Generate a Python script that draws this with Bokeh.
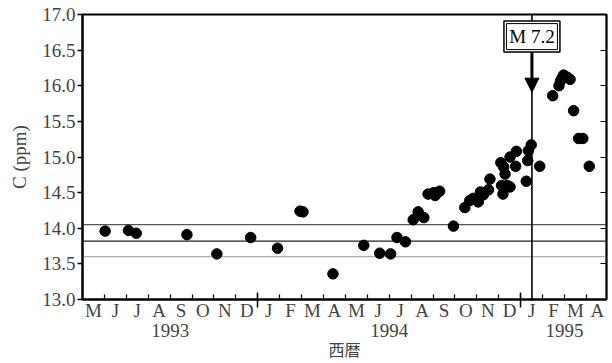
import datetime
import calendar
from bokeh.plotting import figure
from bokeh.models import (FixedTicker, LinearAxis, Span, Arrow, NormalHead,
                          PrintfTickFormatter)
from bokeh.core.properties import value
from bokeh.embed import file_html
from bokeh.resources import INLINE

# ---------------- data ----------------
dates = [
    "1993-06-02", "1993-07-04", "1993-07-15", "1993-09-24", "1993-11-05",
    "1993-12-22", "1994-01-29", "1994-02-27", "1994-03-03", "1994-04-14",
    "1994-05-27", "1994-06-18", "1994-07-03", "1994-07-12", "1994-07-24",
    "1994-08-04", "1994-08-11", "1994-08-19", "1994-08-25", "1994-09-02",
    "1994-09-04", "1994-09-10", "1994-09-29", "1994-10-15", "1994-10-22",
    "1994-10-27", "1994-11-03", "1994-11-06", "1994-11-10", "1994-11-17",
    "1994-11-19", "1994-12-04", "1994-12-05", "1994-12-07", "1994-12-08",
    "1994-12-10", "1994-12-13", "1994-12-17", "1994-12-17", "1994-12-25",
    "1994-12-26", "1995-01-09", "1995-01-11", "1995-01-12", "1995-01-16",
    "1995-01-28", "1995-02-14", "1995-02-22", "1995-02-24", "1995-02-26",
    "1995-02-28", "1995-03-05", "1995-03-09", "1995-03-14", "1995-03-21",
    "1995-03-27", "1995-04-05",
]
conc = [
    13.96, 13.97, 13.93, 13.91, 13.64,
    13.87, 13.72, 14.24, 14.23, 13.36,
    13.76, 13.65, 13.64, 13.87, 13.81,
    14.12, 14.23, 14.15, 14.48, 14.50,
    14.46, 14.52, 14.03, 14.29, 14.39,
    14.42, 14.37, 14.51, 14.47, 14.54,
    14.69, 14.92, 14.60, 14.48, 14.86,
    14.76, 14.60, 14.58, 15.00, 14.87,
    15.08, 14.66, 14.95, 15.09, 15.17,
    14.87, 15.86, 16.00, 16.07, 16.11,
    16.15, 16.12, 16.09, 15.65, 15.26,
    15.26, 14.87,
]
baseline_levels = [14.05, 13.82, 13.60]
baseline_colors = ["#555555", "#222222", "#999999"]
quake_date = "1995-01-17"
quake_label = "M 7.2"
month_letters = ["M", "J", "J", "A", "S", "O", "N", "D",
                 "J", "F", "M", "A", "M", "J", "J", "A", "S", "O", "N", "D",
                 "J", "F", "M", "A"]
years = ["1993", "1994", "1995"]
year_centers = [4.0, 14.0, 22.0]      # month index centre of each year's span
year_bounds = [8.0, 20.0]             # Jan 1994, Jan 1995
y_ticks = [13.0, 13.5, 14.0, 14.5, 15.0, 15.5, 16.0, 16.5, 17.0]


def month_pos(s):
    d = datetime.date.fromisoformat(s)
    k = (d.year - 1993) * 12 + (d.month - 5)
    n = calendar.monthrange(d.year, d.month)[1]
    return k + (d.day - 1) / n


xs = [month_pos(d) for d in dates]
qx = month_pos(quake_date)

SERIF = "Liberation Serif"
FS = "19px"

p = figure(width=612, height=363, x_range=(0, 23.92), y_range=(13.0, 17.0),
           output_backend="svg", toolbar_location=None,
           min_border_left=82, min_border_right=6, min_border_top=14,
           min_border_bottom=0, x_axis_type=None, y_axis_type=None)
p.grid.visible = False
p.outline_line_color = "black"
p.outline_line_width = 2
p.background_fill_color = "white"
p.border_fill_color = "white"

# left axis
yl = LinearAxis(ticker=FixedTicker(ticks=y_ticks),
                formatter=PrintfTickFormatter(format="%.1f"))
yl.axis_label = "C (ppm)"
yl.axis_label_text_font = SERIF
yl.axis_label_text_font_size = FS
yl.axis_label_text_font_style = "normal"
yl.axis_label_standoff = 9
yl.major_label_text_font = SERIF
yl.major_label_text_font_size = FS
yl.major_label_standoff = 2
yl.major_tick_out = 5
yl.major_tick_in = 0
yl.minor_tick_out = 0
yl.axis_line_width = 2
yl.major_tick_line_width = 1.5
p.add_layout(yl, "left")

# right axis (inward ticks only)
yr = LinearAxis(ticker=FixedTicker(ticks=y_ticks))
yr.major_label_overrides = {t: "" for t in y_ticks}
yr.major_label_standoff = 0
yr.major_tick_in = 6
yr.major_tick_out = 0
yr.minor_tick_out = 0
yr.axis_line_width = 1.5
yr.major_tick_line_width = 1.2
p.add_layout(yr, "right")

# bottom axis line: year-boundary ticks crossing the axis, month-boundary ticks inside
xa = LinearAxis(ticker=FixedTicker(ticks=year_bounds,
                                   minor_ticks=[float(k) for k in range(1, 24)]))
xa.major_label_overrides = {t: "" for t in year_bounds}
xa.major_label_standoff = 0
xa.major_tick_in = 7
xa.major_tick_out = 8
xa.major_tick_line_width = 1.5
xa.minor_tick_in = 5
xa.minor_tick_out = 0
xa.minor_tick_line_width = 1.2
xa.axis_line_width = 2
p.add_layout(xa, "below")

# month letters at month centres
centers = [k + 0.5 for k in range(len(month_letters))]
xb = LinearAxis(ticker=FixedTicker(ticks=centers))
xb.major_label_overrides = {c: lab for c, lab in zip(centers, month_letters)}
xb.major_label_text_font = SERIF
xb.major_label_text_font_size = FS
xb.major_label_standoff = -8
xb.major_tick_in = 0
xb.major_tick_out = 0
xb.minor_tick_out = 0
xb.axis_line_color = None
p.add_layout(xb, "below")

# year row
xy = LinearAxis(ticker=FixedTicker(ticks=year_centers))
xy.major_label_overrides = {c: lab for c, lab in zip(year_centers, years)}
xy.major_label_text_font = SERIF
xy.major_label_text_font_size = FS
xy.major_label_standoff = 0
xy.major_tick_in = 0
xy.major_tick_out = 0
xy.minor_tick_out = 0
xy.axis_line_color = None
xy.axis_label = "西暦"
xy.axis_label_text_font = "Noto Sans CJK JP"
xy.axis_label_text_font_size = "16px"
xy.axis_label_text_font_style = "normal"
xy.axis_label_standoff = -3
p.add_layout(xy, "below")

# baseline mean +- sigma lines
for lv, col in zip(baseline_levels, baseline_colors):
    p.add_layout(Span(location=lv, dimension="width", line_color=col,
                      line_width=1.2, level="underlay"))

# earthquake line
p.add_layout(Span(location=qx, dimension="height", line_color="black",
                  line_width=1.6, level="underlay"))

# data
p.scatter(xs, conc, size=10.5, marker="circle", fill_color="black",
          line_color="black")

# M 7.2 box
p.rect([qx], [16.69], width=56, height=31, width_units="screen",
       height_units="screen", fill_color="white", line_color="black",
       line_width=1.5)
p.rect([qx], [16.69], width=51, height=26, width_units="screen",
       height_units="screen", fill_color=None, line_color="black",
       line_width=1)
p.text([qx], [16.69], text=[quake_label], text_font=value(SERIF),
       text_font_size=FS, text_align="center", text_baseline="middle",
       text_color="black")

# arrow
p.add_layout(Arrow(x_start=qx, y_start=16.47, x_end=qx, y_end=15.91,
                   line_width=3, line_color="black",
                   end=NormalHead(size=14, fill_color="black",
                                  line_color="black")))

open("out.html", "w").write(file_html(p, INLINE))
